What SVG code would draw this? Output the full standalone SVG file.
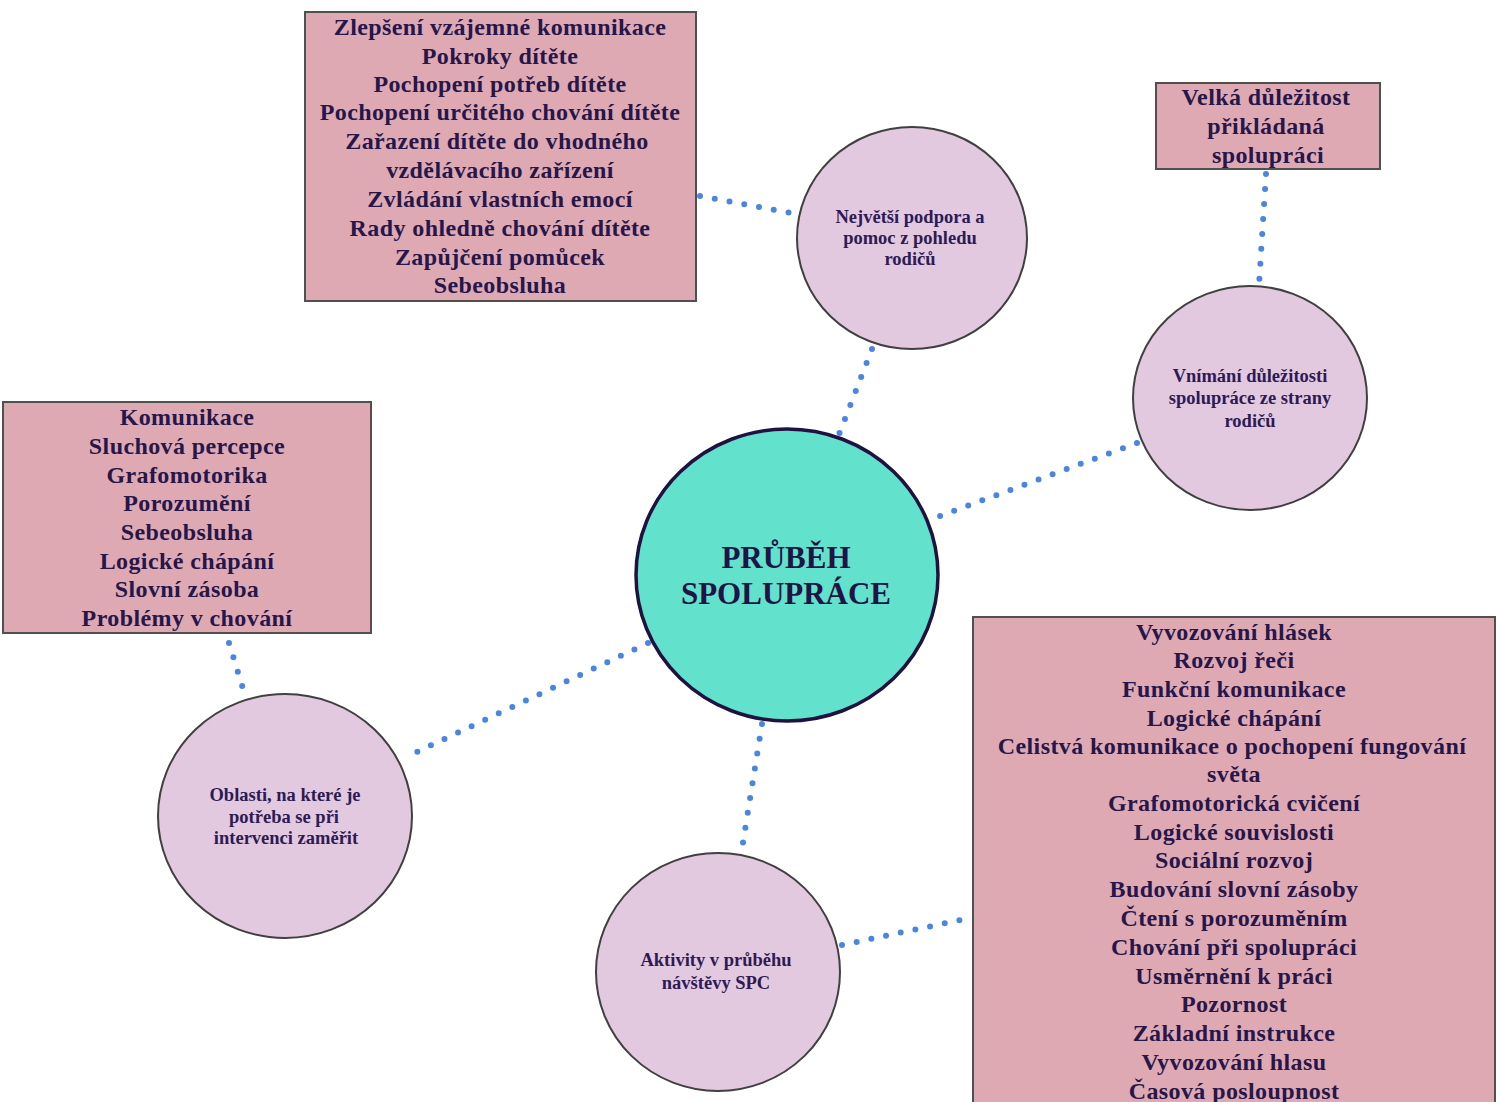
<svg xmlns="http://www.w3.org/2000/svg" width="1503" height="1102" viewBox="0 0 1503 1102">
<style>
.box{fill:#dfa9b3;stroke:#505050;stroke-width:2}
.circ{fill:#e3c9df;stroke:#404040;stroke-width:2}
.ctr{fill:#62e1cc;stroke:#1f1240;stroke-width:3.5}
text{font-family:'Liberation Serif','Times New Roman','DejaVu Serif',serif;font-weight:bold;text-anchor:middle}
.bt{font-size:24px;letter-spacing:0.4px;fill:#26164a}
.ct{font-size:18.5px;fill:#2e1a55}
.mt{font-size:31px;fill:#1f1445}
.con{stroke:#4a86e0;stroke-width:6;stroke-linecap:round;stroke-dasharray:0 15;fill:none}
</style>
<rect width="1503" height="1102" fill="#ffffff"/>
<g id="connectors">
<line class="con" x1="700" y1="196" x2="797" y2="214"/>
<line class="con" x1="872" y1="349" x2="838" y2="437"/>
<line class="con" x1="1266" y1="174" x2="1259" y2="285"/>
<line class="con" x1="1137" y1="443" x2="932" y2="519"/>
<line class="con" x1="229" y1="643" x2="244" y2="692"/>
<line class="con" x1="648" y1="643" x2="404" y2="758"/>
<line class="con" x1="762" y1="724" x2="741" y2="855"/>
<line class="con" x1="842" y1="945" x2="965" y2="919"/>
</g>
<g id="center">
<ellipse class="ctr" cx="787" cy="575" rx="151" ry="146"/>
<text class="mt" x="786" y="568">PRŮBĚH</text>
<text class="mt" x="786" y="604">SPOLUPRÁCE</text>
</g>
<g id="top-box">
<rect class="box" x="305" y="12" width="391" height="289"/>
<text class="bt" x="500" y="35">Zlepšení vzájemné komunikace</text>
<text class="bt" x="500" y="64">Pokroky dítěte</text>
<text class="bt" x="500" y="92">Pochopení potřeb dítěte</text>
<text class="bt" x="500" y="120">Pochopení určitého chování dítěte</text>
<text class="bt" x="497" y="149">Zařazení dítěte do vhodného</text>
<text class="bt" x="500" y="178">vzdělávacího zařízení</text>
<text class="bt" x="500" y="207">Zvládání vlastních emocí</text>
<text class="bt" x="500" y="236">Rady ohledně chování dítěte</text>
<text class="bt" x="500" y="265">Zapůjčení pomůcek</text>
<text class="bt" x="500" y="293">Sebeobsluha</text>
</g>
<g id="node-nejvetsi">
<ellipse class="circ" cx="912" cy="238" rx="115" ry="111"/>
<text class="ct" x="910" y="223">Největší podpora a</text>
<text class="ct" x="910" y="244">pomoc z pohledu</text>
<text class="ct" x="910" y="265">rodičů</text>
</g>
<g id="box-velka">
<rect class="box" x="1156" y="83" width="224" height="86"/>
<text class="bt" x="1266" y="105">Velká důležitost</text>
<text class="bt" x="1266" y="134">přikládaná</text>
<text class="bt" x="1268" y="163">spolupráci</text>
</g>
<g id="node-vnimani">
<ellipse class="circ" cx="1250" cy="398" rx="117" ry="112"/>
<text class="ct" x="1250" y="382">Vnímání důležitosti</text>
<text class="ct" x="1250" y="404">spolupráce ze strany</text>
<text class="ct" x="1250" y="427">rodičů</text>
</g>
<g id="left-box">
<rect class="box" x="3" y="402" width="368" height="231"/>
<text class="bt" x="187" y="425">Komunikace</text>
<text class="bt" x="187" y="454">Sluchová percepce</text>
<text class="bt" x="187" y="483">Grafomotorika</text>
<text class="bt" x="187" y="511">Porozumění</text>
<text class="bt" x="187" y="540">Sebeobsluha</text>
<text class="bt" x="187" y="569">Logické chápání</text>
<text class="bt" x="187" y="597">Slovní zásoba</text>
<text class="bt" x="187" y="626">Problémy v chování</text>
</g>
<g id="node-oblasti">
<ellipse class="circ" cx="285" cy="816" rx="127" ry="122"/>
<text class="ct" x="285" y="801">Oblasti, na které je</text>
<text class="ct" x="284" y="823">potřeba se při</text>
<text class="ct" x="286" y="844">intervenci zaměřit</text>
</g>
<g id="node-aktivity">
<ellipse class="circ" cx="718" cy="972" rx="122" ry="119"/>
<text class="ct" x="716" y="966">Aktivity v průběhu</text>
<text class="ct" x="716" y="989">návštěvy SPC</text>
</g>
<g id="right-box">
<rect class="box" x="973" y="617" width="522" height="500"/>
<text class="bt" x="1234" y="640">Vyvozování hlásek</text>
<text class="bt" x="1234" y="668">Rozvoj řeči</text>
<text class="bt" x="1234" y="697">Funkční komunikace</text>
<text class="bt" x="1234" y="726">Logické chápání</text>
<text class="bt" x="1232" y="754">Celistvá komunikace o pochopení fungování</text>
<text class="bt" x="1234" y="782">světa</text>
<text class="bt" x="1234" y="811">Grafomotorická cvičení</text>
<text class="bt" x="1234" y="840">Logické souvislosti</text>
<text class="bt" x="1234" y="868">Sociální rozvoj</text>
<text class="bt" x="1234" y="897">Budování slovní zásoby</text>
<text class="bt" x="1234" y="926">Čtení s porozuměním</text>
<text class="bt" x="1234" y="955">Chování při spolupráci</text>
<text class="bt" x="1234" y="984">Usměrnění k práci</text>
<text class="bt" x="1234" y="1012">Pozornost</text>
<text class="bt" x="1234" y="1041">Základní instrukce</text>
<text class="bt" x="1234" y="1070">Vyvozování hlasu</text>
<text class="bt" x="1234" y="1099">Časová posloupnost</text>
</g>
</svg>
